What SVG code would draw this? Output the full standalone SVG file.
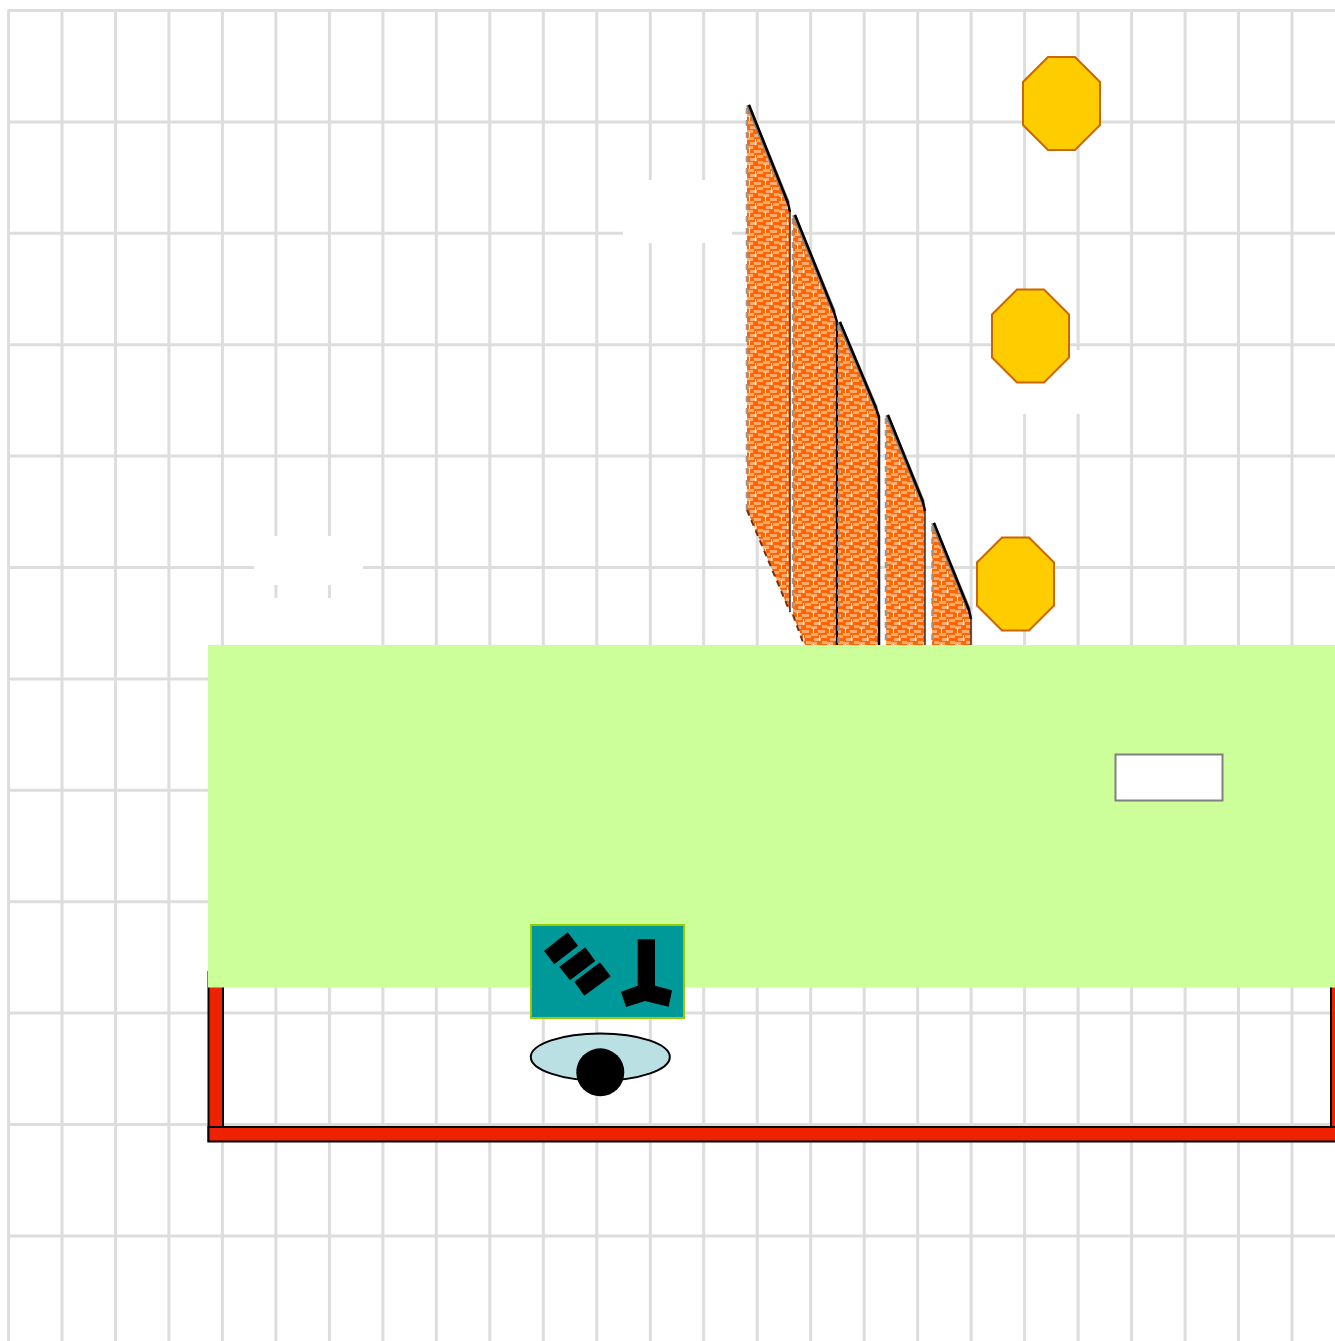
<svg xmlns="http://www.w3.org/2000/svg" width="1335" height="1341" viewBox="0 0 1335 1341">
<style>
.grid{stroke:#dddddd;stroke-width:3;fill:none}
.mask{fill:#ffffff}
.oct{fill:#ffcc00;stroke:#cc6600;stroke-width:2}
.halo{fill:none;stroke:#808080;stroke-width:4;stroke-linejoin:round}
.edge{fill:none;stroke:#000000;stroke-width:2.5;stroke-linejoin:round}
.thin{fill:none;stroke:#303030;stroke-width:1.500}
.left{fill:none;stroke:#a89080;stroke-width:2.500;stroke-dasharray:6 6}
.low{fill:none;stroke:#703010;stroke-width:2;stroke-dasharray:6 5}
.hatch{fill:url(#weave)}
.red{fill:#ee2200;stroke:#000000;stroke-width:2}
.glyph{fill:#000000}
</style>
<defs>
<pattern id="weave" patternUnits="userSpaceOnUse" x="747" y="105" width="16" height="16">
<rect width="16" height="16" fill="#ff6600"/>
<rect x="0" y="0" width="7" height="3" fill="#ffaa70"/>
<rect x="10" y="2" width="6" height="3" fill="#ffaa70"/>
<rect x="3" y="5" width="7" height="3" fill="#ffaa70"/>
<rect x="11" y="8" width="5" height="3" fill="#ffaa70"/>
<rect x="0" y="9" width="6" height="3" fill="#ffaa70"/>
<rect x="7" y="13" width="7" height="3" fill="#ffaa70"/>
<rect x="8" y="2" width="1" height="6" fill="#ffffff"/>
<rect x="2" y="11" width="1" height="5" fill="#ffffff"/>
</pattern>
</defs>
<rect id="background" width="1335" height="1341" fill="#ffffff"/>
<g id="grid">
<path class="grid" d="M8.5 10V1341M62 10V1341M115.5 10V1341M168.9 10V1341M222.4 10V1341M275.9 10V1341M329.4 10V1341M382.9 10V1341M436.3 10V1341M489.8 10V1341M543.3 10V1341M596.8 10V1341M650.3 10V1341M703.7 10V1341M757.2 10V1341M810.7 10V1341M864.2 10V1341M917.7 10V1341M971.1 10V1341M1024.6 10V1341M1078.1 10V1341M1131.6 10V1341M1185.1 10V1341M1238.5 10V1341M1292 10V1341"/>
<path class="grid" d="M8 10.5H1335M8 121.9H1335M8 233.3H1335M8 344.7H1335M8 456.1H1335M8 567.5H1335M8 678.9H1335M8 790.3H1335M8 901.7H1335M8 1013.1H1335M8 1124.5H1335M8 1235.9H1335"/>
</g>
<g id="masks">
<rect class="mask" x="623" y="180" width="109" height="63"/>
<rect class="mask" x="254" y="536" width="109" height="49"/>
<rect class="mask" x="254" y="598" width="109" height="50"/>
<rect class="mask" x="1000" y="350" width="100" height="64"/>
</g>
<g id="panel-1">
<polygon class="hatch" points="747,105 788,203 790,212 790,612 747,510"/>
<polyline class="halo" points="748,105 788,203"/>
<polyline class="edge" points="749,105 788,203 790,212"/>
<line class="thin" x1="790" y1="212" x2="790" y2="612"/>
<line class="left" x1="747" y1="108" x2="747" y2="510"/>
<line class="low" x1="747" y1="510" x2="790" y2="612"/>
</g>
<g id="panel-2">
<polygon class="hatch" points="793,215 834,312 837,322 837,660 811,660 793,615"/>
<polyline class="halo" points="794,215 834,312"/>
<polyline class="edge" points="795,215 834,312 837,322 837,660"/>
<line class="left" x1="793" y1="218" x2="793" y2="615"/>
<line class="low" x1="793" y1="615" x2="804" y2="645"/>
</g>
<g id="panel-3">
<polygon class="hatch" points="838,322 876,408 879,417 879,660 838,660"/>
<polyline class="halo" points="839,322 876,408"/>
<polyline class="edge" points="840,322 876,408 879,417 879,660"/>
<line class="left" x1="838.500" y1="325" x2="838.500" y2="660"/>
</g>
<g id="panel-4">
<polygon class="hatch" points="886,415 923,502 925,511 925,660 886,660"/>
<polyline class="halo" points="887,415 923,502"/>
<polyline class="edge" points="888,415 923,502 925,511"/>
<line class="thin" x1="925" y1="511" x2="925" y2="660"/>
<line class="left" x1="886" y1="418" x2="886" y2="660"/>
</g>
<g id="panel-5">
<polygon class="hatch" points="932,523 969,610 971,619 971,660 932,660"/>
<polyline class="halo" points="933,523 969,610"/>
<polyline class="edge" points="934,523 969,610 971,619"/>
<line class="thin" x1="971" y1="619" x2="971" y2="660"/>
<line class="left" x1="932.500" y1="526" x2="932.500" y2="660"/>
</g>
<g id="octagon-1"><polygon class="oct" points="1048,57 1075,57 1100,82 1100,125 1075,150 1048,150 1023,125 1023,82"/></g>
<g id="octagon-2"><polygon class="oct" points="1017,289.500 1044,289.500 1069,314.500 1069,357.500 1044,382.500 1017,382.500 992,357.500 992,314.500"/></g>
<g id="octagon-3"><polygon class="oct" points="1002,537.500 1029,537.500 1054,562.500 1054,605.500 1029,630.500 1002,630.500 977,605.500 977,562.500"/></g>
<g id="frame">
<rect class="red" x="208.500" y="972" width="14.500" height="169"/>
<rect class="red" x="1331" y="972" width="14" height="169"/>
<rect class="red" x="208.500" y="1127" width="1136" height="14.500"/>
</g>
<g id="green-area"><rect x="208" y="645" width="1127" height="342.500" fill="#ccff99"/></g>
<g id="white-box"><rect x="1115.500" y="754.500" width="107" height="46" fill="#ffffff" stroke="#808080" stroke-width="2"/></g>
<g id="teal-box">
<rect x="531" y="925" width="153" height="93" fill="#009999" stroke="#99cc00" stroke-width="2"/>
<polygon class="glyph" points="544,951 567.700,932.300 578,945.700 554.300,964.300"/>
<polygon class="glyph" points="559.300,966.700 585.300,947.300 595.300,961 570,980.300"/>
<polygon class="glyph" points="574.300,981.700 600,962.300 610.700,976.300 584.300,995.700"/>
<polygon class="glyph" points="637.700,939.300 655,939.300 655,985.700 672,990.300 668.700,1006.700 645,1001 626,1007 621,991.700 637.700,985.700"/>
</g>
<g id="viewer">
<ellipse cx="600.300" cy="1057" rx="69.500" ry="23.500" fill="#bbe0e3" stroke="#000000" stroke-width="2"/>
<circle cx="600.300" cy="1072.300" r="24" fill="#000000"/>
</g>
</svg>
